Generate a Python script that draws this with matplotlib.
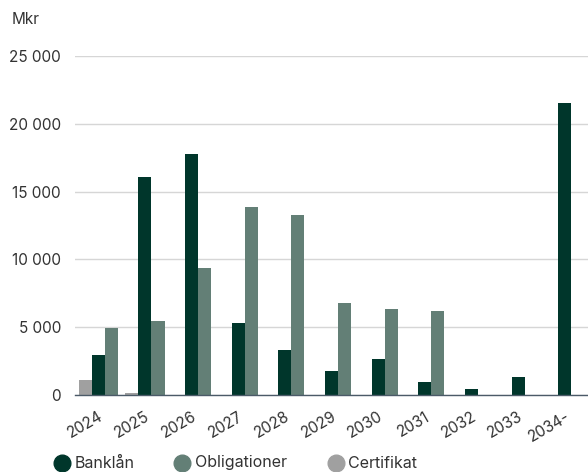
import numpy as np
import matplotlib.pyplot as plt
from matplotlib.lines import Line2D

plt.rcParams['font.family'] = ['Inter', 'DejaVu Sans']

years = ["2024", "2025", "2026", "2027", "2028", "2029", "2030", "2031", "2032", "2033", "2034-"]
banklan = [2950, 16100, 17800, 5300, 3300, 1770, 2650, 960, 440, 1330, 21550]
obligationer = [4950, 5450, 9380, 13870, 13280, 6780, 6340, 6190, 0, 0, 0]
certifikat = [1100, 150, 0, 0, 0, 0, 0, 0, 0, 0, 0]
series_names = ["Banklån", "Obligationer", "Certifikat"]

c_bank = "#00362b"
c_obl = "#637f76"
c_cert = "#a0a0a0"
text_col = "#333333"

fig = plt.figure(figsize=(5.88, 4.72), dpi=100)
ax = fig.add_axes([75 / 588, 1 - 395 / 472, 1 - 75 / 588, (395 - 56) / 472])

x = np.arange(len(years))
w = 0.28
ax.bar(x - w, certifikat, w, color=c_cert, zorder=3)
ax.bar(x, banklan, w, color=c_bank, zorder=3)
ax.bar(x + w, obligationer, w, color=c_obl, zorder=3)

ax.set_xlim(-0.5, len(years) - 0.5)
ax.set_ylim(0, 25000)
ax.set_yticks(np.arange(0, 25001, 5000))
ax.set_yticklabels([f"{v:,}".replace(",", " ") for v in range(0, 25001, 5000)])
ax.set_xticks(x)
ax.set_xticklabels(years, rotation=30, ha="right", rotation_mode="anchor")
ax.tick_params(axis="both", length=0, labelsize=11, colors=text_col)
ax.tick_params(axis="y", pad=10)
ax.tick_params(axis="x", pad=10)
ax.yaxis.grid(True, color="#d6d6d6", linewidth=1, zorder=0)
for s in ["top", "right", "left"]:
    ax.spines[s].set_visible(False)
ax.spines["bottom"].set_color("#4b5a68")
ax.spines["bottom"].set_linewidth(1)
ax.spines["bottom"].set_zorder(4)

fig.text(12 / 588, 1 - 20 / 472, "Mkr", fontsize=11, color=text_col, va="center", ha="left")

# legend, placed by hand
leg_y = 1 - 463 / 472
for name, col, cx, tx in zip(series_names, [c_bank, c_obl, c_cert], [62, 182, 336], [75, 195, 348]):
    fig.add_artist(Line2D([cx / 588], [leg_y], transform=fig.transFigure, marker="o",
                          markersize=12, color=col, linestyle=""))
    fig.text(tx / 588, leg_y, name, fontsize=11.5, color=text_col, va="center", ha="left")

fig.savefig("out.png", dpi=100)
